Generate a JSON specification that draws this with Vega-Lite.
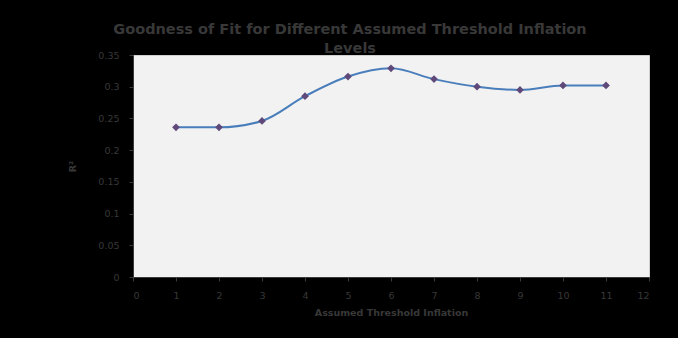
{
  "$schema": "https://vega.github.io/schema/vega-lite/v6.json",
  "autosize": {"type": "none"},
  "width": 516,
  "height": 222,
  "padding": {"left": 133, "top": 55, "right": 29, "bottom": 61},
  "background": "#000000",
  "title": {
    "text": ["Goodness of Fit for Different Assumed Threshold Inflation", "Levels"],
    "anchor": "middle",
    "dx": -41,
    "offset": -6,
    "fontSize": 14.5,
    "fontWeight": "bold",
    "font": "DejaVu Sans",
    "color": "#383838",
    "lineHeight": 19
  },
  "config": {
    "view": {"fill": "#f2f2f2", "stroke": "#d0d0d0", "strokeWidth": 1},
    "axis": {
      "labelFont": "DejaVu Sans",
      "titleFont": "DejaVu Sans",
      "labelColor": "#383838",
      "titleColor": "#383838",
      "labelFontSize": 9.5,
      "titleFontSize": 9.5,
      "grid": false,
      "domainColor": "#3a3a3a",
      "tickColor": "#3a3a3a",
      "tickSize": 4
    }
  },
  "data": {
    "values": [
      {"x": 1, "r2": 0.236},
      {"x": 2, "r2": 0.236},
      {"x": 3, "r2": 0.246},
      {"x": 4, "r2": 0.285},
      {"x": 5, "r2": 0.316},
      {"x": 6, "r2": 0.329},
      {"x": 7, "r2": 0.312},
      {"x": 8, "r2": 0.300},
      {"x": 9, "r2": 0.295},
      {"x": 10, "r2": 0.302},
      {"x": 11, "r2": 0.302}
    ]
  },
  "encoding": {
    "x": {
      "field": "x",
      "type": "quantitative",
      "scale": {"domain": [0, 12], "nice": false},
      "axis": {
        "title": "Assumed Threshold Inflation",
        "values": [0,1,2,3,4,5,6,7,8,9,10,11,12],
        "labelPadding": 9,
        "titlePadding": 8,
        "titleFontWeight": "bold"
      }
    },
    "y": {
      "field": "r2",
      "type": "quantitative",
      "scale": {"domain": [0, 0.35], "nice": false},
      "axis": {
        "title": "R²",
        "values": [0, 0.05, 0.1, 0.15, 0.2, 0.25, 0.3, 0.35],
        "format": "~g",
        "labelPadding": 10,
        "titlePadding": 20,
        "titleFontWeight": "bold"
      }
    }
  },
  "layer": [
    {
      "mark": {"type": "line", "interpolate": "monotone", "color": "#4a7ebb", "strokeWidth": 2}
    },
    {
      "mark": {"type": "point", "shape": "diamond", "filled": true, "size": 60, "color": "#5f497a", "opacity": 1}
    }
  ]
}
